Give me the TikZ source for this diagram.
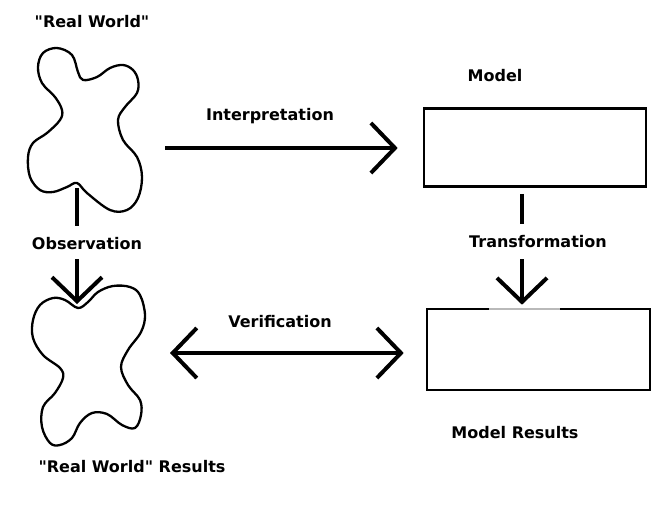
\documentclass[tikz,border=0pt]{standalone}
\usepackage{fontspec}
\defaultfontfeatures{}
\setmainfont{DejaVu Sans}[Ligatures=TeXOff]
\usetikzlibrary{arrows.meta}
\newcommand{\dq}{\symbol{34}}
\begin{document}
\begin{tikzpicture}[x=1pt,y=-1pt,
  lbl/.style={font=\bfseries\fontsize{16}{18}\selectfont, inner sep=0pt},
  blob/.style={line width=2.3pt, line join=round},
  conn/.style={line width=4pt},
  tip/.style={-{Straight Barb[length=24pt,width=50pt,line width=4pt]}},
  dtip/.style={{Straight Barb[length=24pt,width=50pt,line width=4pt]}-{Straight Barb[length=24pt,width=50pt,line width=4pt]}},
  boxst/.style={draw, line width=2.6pt, minimum width=222pt, minimum height=78pt, inner sep=0pt}]
\useasboundingbox (0,0) rectangle (662,523);
\fill[white] (0,0) rectangle (662,523);
% labels
\node[lbl] (rw) at (92,22) {\dq Real World\dq};
\node[lbl] (obs) at (87,244) {Observation};
\node[lbl] (rwr) at (132,467) {\dq Real World\dq{} Results};
\node[lbl] (interp) at (270,116) {Interpretation};
\node[lbl] (verif) at (280,322) {Verification};
\node[lbl] (model) at (495,76) {Model};
\node[lbl] (trans) at (538,242) {Transformation};
\node[lbl] (mres) at (515,433) {Model Results};
% blobs
\draw[blob] plot[smooth cycle, tension=0.6] coordinates {
 (83,80) (97,77) (110,68) (123,65) (133,70) (138,80) (137,93) (125,107) (118,120)
 (123,140) (137,157) (142,177) (138,198) (127,210) (110,210) (87,193) (77,183)
 (67,187) (53,192) (40,190) (30,177) (28,157) (33,143) (47,133) (60,120) (62,110)
 (55,97) (42,83) (38,67) (43,53) (57,48) (72,55) (78,72)};
\draw[blob] plot[smooth cycle, tension=0.6] coordinates {
 (78,308) (65,300) (53,298) (40,305) (33,320) (33,338) (43,355) (60,368) (63,378)
 (55,393) (43,407) (42,427) (50,443) (60,445) (72,438) (80,423) (92,413) (107,414)
 (122,425) (135,428) (141,415) (140,400) (128,385) (121,367) (128,350) (141,332)
 (145,315) (140,295) (130,287) (113,286) (98,292) (88,302)};
\coordinate (b1bot) at (77,188);
\coordinate (obsup) at (77,226);
\coordinate (obsdown) at (77,259);
\coordinate (b2top) at (77,304);
\coordinate (b1right) at (165,148);
\coordinate (b2right) at (170,353);
% boxes
\node[boxst] (mbox) at (535,147.5) {};
\node[boxst, minimum width=223pt, minimum height=81pt] (rbox) at (538.5,349.5) {};
\draw[line width=2.6pt, gray!55] (489,309) -- (560,309);
\coordinate (tup) at (522,224);
\coordinate (tdown) at (522,259);
% connectors
\draw[conn] (b1bot) -- (obsup);
\draw[conn, tip] (obsdown) -- (b2top);
\draw[conn, tip, shorten >=25pt] (b1right) -- (mbox.west |- b1right);
\draw[conn] (mbox.south -| tup) ++(0,6) -- (tup);
\draw[conn, tip, shorten >=3pt] (tdown) -- (rbox.north -| tdown);
\draw[conn, dtip, shorten >=22pt] (b2right) -- (rbox.west |- b2right);
\end{tikzpicture}
\end{document}
